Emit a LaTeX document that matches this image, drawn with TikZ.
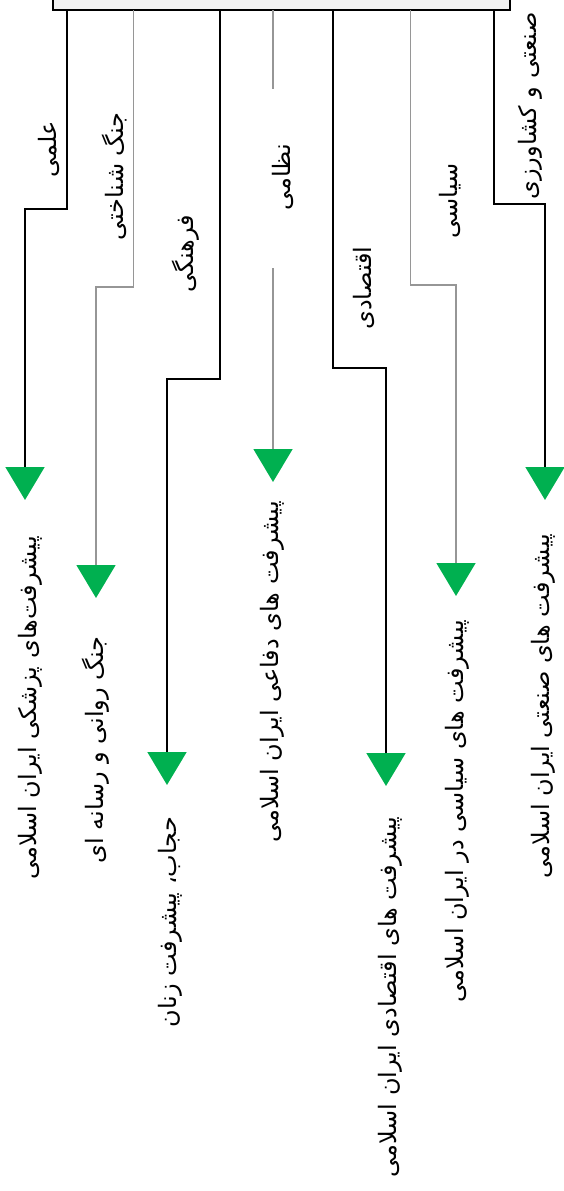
\documentclass[tikz,border=0pt]{standalone}
\usepackage{fontspec}
\newfontfamily\farsi[Script=Arabic]{DejaVu Sans}
\TeXXeTstate=1
\usetikzlibrary{arrows.meta}
\definecolor{boxgray}{RGB}{242,242,242}
\definecolor{linegray}{RGB}{150,150,150}
\definecolor{headgreen}{RGB}{0,176,80}

\begin{document}
\begin{tikzpicture}[x=1pt,y=-1pt,
  lbl/.style={font=\farsi\fontsize{24}{28}\selectfont,rotate=90,text=black,anchor=center,inner sep=0pt},
  blackline/.style={draw=black,line width=1.9pt},
  grayline/.style={draw=linegray,line width=1.6pt},
  greenhead/.style={-{Triangle[width=39pt,length=33pt,color=headgreen]}}]
\useasboundingbox (0,0) rectangle (563,1191);
\node[draw=black,fill=boxgray,line width=2.2pt,outer sep=0pt,inner sep=0pt,minimum width=457pt,minimum height=40pt] (hub) at (281.5,-10) {};

\coordinate (t1) at (25,500);
\coordinate (t2) at (96,598);
\coordinate (t3) at (167,785);
\coordinate (t4) at (273,482);
\coordinate (t5) at (386,786);
\coordinate (t6) at (456,596);
\coordinate (t7) at (545,500);
\coordinate (gap4a) at (273,89);
\coordinate (gap4b) at (273,268);

\draw[blackline,greenhead] ([xshift=14pt]hub.south west) -- ++(0,199) -| (t1);
\draw[grayline,greenhead] ([xshift=80.5pt]hub.south west) -- ++(0,277) -| (t2);
\draw[blackline,greenhead] ([xshift=167pt]hub.south west) -- ++(0,369) -| (t3);
\draw[grayline] ([xshift=220pt]hub.south west) -- (gap4a);
\draw[grayline,greenhead] (gap4b) -- (t4);
\draw[blackline,greenhead] ([xshift=280pt]hub.south west) -- ++(0,358) -| (t5);
\draw[grayline,greenhead] ([xshift=357.5pt]hub.south west) -- ++(0,275) -| (t6);
\draw[blackline,greenhead] ([xshift=441pt]hub.south west) -- ++(0,194) -| (t7);

% fields
\node[lbl] (elmi) at (48.5,149) {\beginR علمی\endR};
\node[lbl] (jang) at (115,176.5) {\beginR جنگ شناختی\endR};
\node[lbl] (farhang) at (186,254) {\beginR فرهنگی\endR};
\node[lbl] (nezami) at (283,177) {\beginR نظامی\endR};
\node[lbl] (eghtesad) at (364,288) {\beginR اقتصادی\endR};
\node[lbl] (siasat) at (450,201) {\beginR سیاسی\endR};
\node[lbl] (sanat) at (530,106) {\beginR صنعتی و کشاورزی\endR};

% outcomes
\node[lbl] (pezeshki) at (30,708) {\beginR پیشرفت‌های پزشکی ایران اسلامی\endR};
\node[lbl] (ravani) at (96,750) {\beginR جنگ روانی و رسانه ای\endR};
\node[lbl] (hejab) at (170,922) {\beginR حجاب، پیشرفت زنان\endR};
\node[lbl] (defaei) at (272,672) {\beginR پیشرفت های دفاعی ایران اسلامی\endR};
\node[lbl] (eghtesadi) at (390,997) {\beginR پیشرفت های اقتصادی ایران اسلامی\endR};
\node[lbl] (siasi) at (457,811) {\beginR پیشرفت های سیاسی در ایران اسلامی\endR};
\node[lbl] (sanati) at (543,706) {\beginR پیشرفت های صنعتی ایران اسلامی\endR};
\end{tikzpicture}
\end{document}
